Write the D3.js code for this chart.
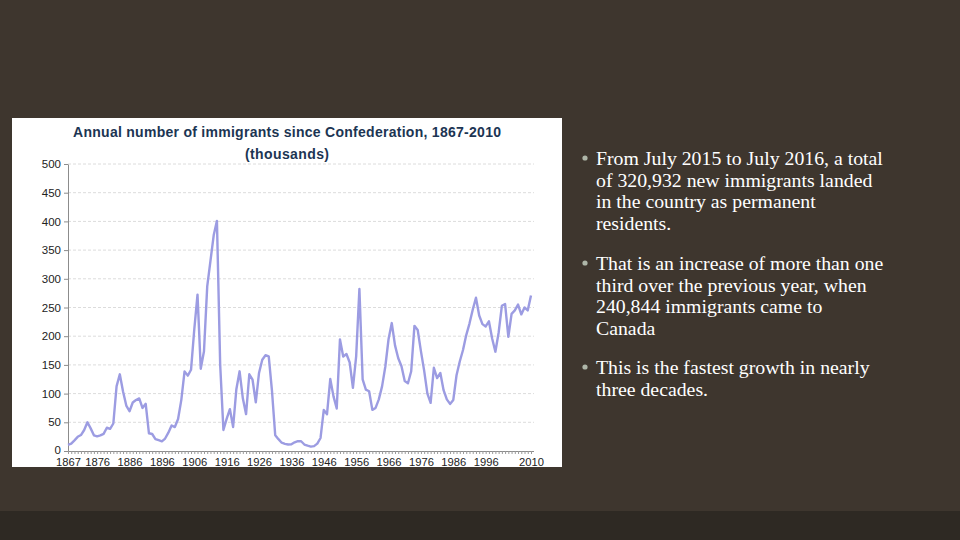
<!DOCTYPE html>
<html>
<head>
<meta charset="utf-8">
<script src="https://cdn.jsdelivr.net/npm/d3@7"></script>
<style>
  html, body { margin: 0; padding: 0; background: #3e362e; }
  svg { display: block; }
</style>
</head>
<body>
<svg id="chart" width="960" height="540"></svg>
<script>
// ---- data (thousands of immigrants) ----
const startYear = 1867;
const endYear = 2010;
const immigrants = [
  10.7, 12.8, 18.6, 24.7, 27.8, 36.6, 50.1, 39.4, 27.4, 25.6,   // 1867-1876
  27.1, 29.8, 40.5, 38.5, 47.9, 112.5, 133.6, 103.8, 79.2, 69.2, // 1877-1886
  84.5, 88.8, 91.6, 75.1, 82.2, 30.9, 29.6, 20.8, 18.8, 16.8,    // 1887-1896
  21.7, 31.9, 44.5, 41.7, 55.7, 89.1, 138.7, 131.3, 141.5, 211.7, // 1897-1906
  272.4, 143.3, 173.7, 286.8, 331.3, 375.8, 400.9, 150.5, 36.7, 55.9, // 1907-1916
  72.9, 41.8, 107.7, 138.8, 91.7, 64.2, 133.7, 124.2, 84.9, 136.0, // 1917-1926
  158.9, 166.8, 164.9, 104.8, 27.5, 20.6, 14.4, 12.5, 11.3, 11.6, // 1927-1936
  15.1, 17.2, 17.0, 11.3, 9.3, 7.6, 8.5, 12.8, 22.7, 71.7,       // 1937-1946
  64.1, 125.4, 95.2, 74.0, 194.4, 164.5, 168.9, 154.2, 109.9, 164.9, // 1947-1956
  282.2, 124.9, 106.9, 104.1, 71.7, 75.0, 90, 112.6, 146.8, 194.7, // 1957-1966
  222.9, 184.0, 161.5, 147.7, 121.9, 118, 139, 218, 211, 174,     // 1967-1976
  140, 100, 84, 145, 127, 136, 106, 90, 82, 89,                   // 1977-1986
  132, 156, 176, 202, 222, 246, 267, 236, 221, 217,               // 1987-1996
  226, 196, 173, 206, 253, 256, 199, 239, 245, 255,               // 1997-2006
  238, 250, 245, 271                                              // 2007-2010
];
const years = d3.range(startYear, endYear + 1);
const labelYears = [1867, 1876, 1886, 1896, 1906, 1916, 1926, 1936, 1946, 1956, 1966, 1976, 1986, 1996, 2010];
const yTicks = [0, 50, 100, 150, 200, 250, 300, 350, 400, 450, 500];
const titleLine1 = "Annual number of immigrants since Confederation, 1867-2010";
const titleLine2 = "(thousands)";
const bullets = [
  ["From July 2015 to July 2016, a total", "of 320,932 new immigrants landed", "in the country as permanent", "residents."],
  ["That is an increase of more than one", "third over the previous year, when", "240,844 immigrants came to", "Canada"],
  ["This is the fastest growth in nearly", "three decades."]
];

const data = years.map((y, i) => ({ year: y, value: immigrants[i] }));

const svg = d3.select("#chart");

// background & bottom band
svg.append("rect").attr("x", 0).attr("y", 0).attr("width", 960).attr("height", 540).attr("fill", "#3e362e");
svg.append("rect").attr("x", 0).attr("y", 511).attr("width", 960).attr("height", 29).attr("fill", "#2e2923");

// white chart panel
svg.append("rect").attr("x", 12).attr("y", 118).attr("width", 550).attr("height", 349).attr("fill", "#ffffff");

const x = d3.scaleLinear().domain([startYear, endYear]).range([68, 531]);
const y = d3.scaleLinear().domain([0, 500]).range([451, 164]);

// gridlines
svg.append("g")
  .selectAll("line")
  .data(yTicks.filter(d => d > 0))
  .join("line")
  .attr("x1", 68).attr("x2", 534)
  .attr("y1", d => y(d)).attr("y2", d => y(d))
  .attr("stroke", "#dcdcdc")
  .attr("stroke-width", 1)
  .attr("stroke-dasharray", "3,2");

const axisFont = "Liberation Sans, Arial, sans-serif";

// y axis
const yAxis = svg.append("g")
  .attr("transform", "translate(68,0)")
  .call(d3.axisLeft(y).tickValues(yTicks).tickSize(4).tickSizeOuter(0).tickPadding(3));
yAxis.select(".domain").attr("stroke", "#8c8c8c");
yAxis.selectAll(".tick line").attr("stroke", "#8c8c8c");
yAxis.selectAll(".tick text")
  .attr("font-family", axisFont)
  .attr("font-size", 11.5)
  .attr("fill", "#222")
  .attr("dy", d => d === 0 ? "0.22em" : "0.32em");

// x axis with yearly minor ticks
const xAxis = svg.append("g")
  .attr("transform", "translate(0,451)")
  .call(d3.axisBottom(x).tickValues(years).tickSize(3).tickSizeOuter(0).tickPadding(4)
    .tickFormat(d => labelYears.includes(d) ? String(d) : ""));
xAxis.select(".domain").attr("stroke", "#8c8c8c").attr("d", "M68,0.5H534");
xAxis.selectAll(".tick line").attr("stroke", "#9a9a9a");
xAxis.selectAll(".tick text")
  .attr("font-family", axisFont)
  .attr("font-size", 11.2)
  .attr("fill", "#222");

// line
const line = d3.line().x(d => x(d.year)).y(d => y(d.value));
svg.append("path")
  .datum(data)
  .attr("d", line)
  .attr("fill", "none")
  .attr("stroke", "#9c9ce2")
  .attr("stroke-width", 2.4)
  .attr("stroke-linejoin", "round");

// title
svg.append("text")
  .attr("x", 287).attr("y", 137)
  .attr("text-anchor", "middle")
  .attr("font-family", axisFont)
  .attr("font-weight", "bold")
  .attr("font-size", 14)
  .attr("fill", "#1c3553")
  .attr("textLength", 428)
  .attr("lengthAdjust", "spacing")
  .text(titleLine1);
svg.append("text")
  .attr("x", 287).attr("y", 159)
  .attr("text-anchor", "middle")
  .attr("font-family", axisFont)
  .attr("font-weight", "bold")
  .attr("font-size", 14)
  .attr("fill", "#1c3553")
  .attr("textLength", 84)
  .attr("lengthAdjust", "spacing")
  .text(titleLine2);

// bullet text
const bulletTop = [165, 270, 374];
const lineH = 21.6;
bullets.forEach((lines, bi) => {
  svg.append("circle")
    .attr("cx", 585).attr("cy", bulletTop[bi] - 7)
    .attr("r", 2.6)
    .attr("fill", "#aeb6a8");
  lines.forEach((t, li) => {
    svg.append("text")
      .attr("x", 596).attr("y", bulletTop[bi] + li * lineH)
      .attr("font-family", "Liberation Serif, Times New Roman, serif")
      .attr("font-size", 19.8)
      .attr("fill", "#ffffff")
      .text(t);
  });
});
</script>
</body>
</html>
